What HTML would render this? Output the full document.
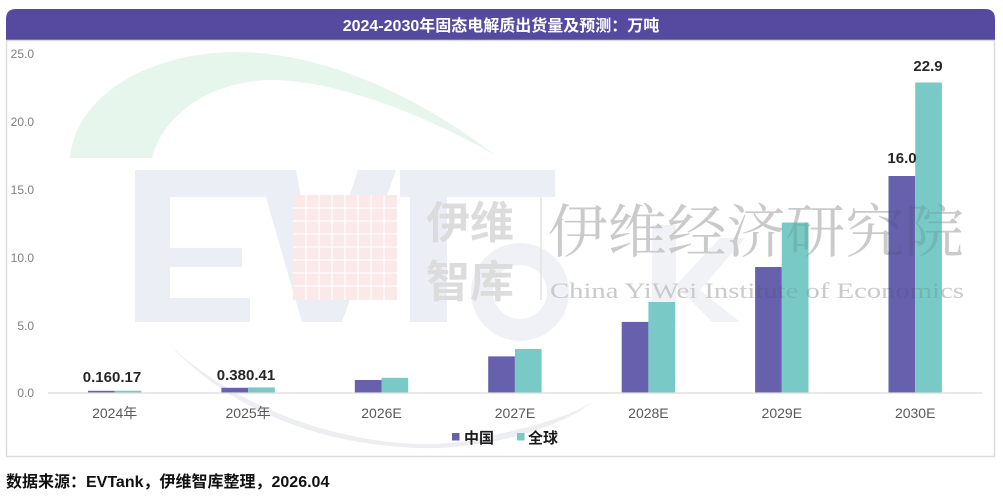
<!DOCTYPE html>
<html>
<head>
<meta charset="utf-8">
<style>
html,body{margin:0;padding:0;background:#fff;}
svg{display:block;}
text{font-family:"Liberation Sans","Noto Sans CJK SC",sans-serif;}
</style>
</head>
<body>
<svg width="1003" height="496" viewBox="0 0 1003 496" xmlns="http://www.w3.org/2000/svg">
  <rect x="0" y="0" width="1003" height="496" fill="#ffffff"/>
  <!-- title bar -->
  <path d="M6,40 V19 Q6,9 16,9 H985 Q995,9 995,19 V40 Z" fill="#554a9f"/>
  <text x="501" y="31" text-anchor="middle" font-size="16" font-weight="bold" fill="#ffffff">2024-2030年固态电解质出货量及预测：万吨</text>
  <!-- frame -->
  <rect x="6.5" y="40.5" width="988" height="416" fill="none" stroke="#dcdcdc" stroke-width="1.5"/>

  <!-- watermark -->
  <g>
    <path d="M70,158 C75,100 140,55 230,52 C330,50 430,105 495,155 C430,118 340,80 270,80 C205,82 162,118 152,158 Z" fill="#e7f6ed"/>
    <path d="M135,170 H265 V197 H170 V248 H242 V267 H170 V298 H250 V322 H135 Z" fill="#eceef5"/>
    <path d="M258,170 H296 L318,292 L358,170 H396 L342,322 H302 Z" fill="#eceef5"/>
    <path d="M400,170 H555 V197 H447 V322 H410 V197 H400 Z" fill="#eceef5"/>
    <circle cx="520" cy="292" r="38" fill="none" stroke="#eff1f6" stroke-width="22"/>
    <rect x="652" y="225" width="24" height="97" fill="#f0f2f6"/>
    <path d="M676,285 L720,238 L745,238 L700,290 L740,322 L712,322 Z" fill="#f0f2f6"/>
    <path d="M170,345 C260,430 400,455 470,440 C520,430 570,418 595,400 C560,430 480,450 420,448 C320,445 230,410 170,345 Z" fill="#eceef3"/>
    <rect x="293" y="195" width="104" height="105" fill="#fbe8e8"/>
    <g stroke="#ffffff" stroke-width="1.2">
      <line x1="306" y1="195" x2="306" y2="300"/><line x1="319" y1="195" x2="319" y2="300"/>
      <line x1="332" y1="195" x2="332" y2="300"/><line x1="345" y1="195" x2="345" y2="300"/>
      <line x1="358" y1="195" x2="358" y2="300"/><line x1="371" y1="195" x2="371" y2="300"/>
      <line x1="384" y1="195" x2="384" y2="300"/>
      <line x1="293" y1="208" x2="397" y2="208"/><line x1="293" y1="221" x2="397" y2="221"/>
      <line x1="293" y1="234" x2="397" y2="234"/><line x1="293" y1="247" x2="397" y2="247"/>
      <line x1="293" y1="260" x2="397" y2="260"/><line x1="293" y1="273" x2="397" y2="273"/>
      <line x1="293" y1="286" x2="397" y2="286"/>
    </g>
    <text x="426" y="238" font-size="44" font-weight="bold" fill="#dcdcdc">伊维</text>
    <text x="426" y="297" font-size="44" font-weight="bold" fill="#dcdcdc">智库</text>
    <line x1="541" y1="197" x2="541" y2="300" stroke="#e3e3e3" stroke-width="1.5"/>
    <text x="548" y="252" font-size="58" fill="#e0e0e0" textLength="416" lengthAdjust="spacingAndGlyphs" style="font-family:'Noto Serif CJK SC','Liberation Serif',serif;">伊维经济研究院</text>
    <text x="550" y="298" font-size="22" fill="#e0e0e0" textLength="414" lengthAdjust="spacingAndGlyphs" style="font-family:'Liberation Serif',serif;">China YiWei Institute of Economics</text>
  </g>

  <!-- y axis labels -->
  <g font-size="12" fill="#7f7f7f" text-anchor="end">
    <text x="34" y="58">25.0</text>
    <text x="34" y="126">20.0</text>
    <text x="34" y="194">15.0</text>
    <text x="34" y="262">10.0</text>
    <text x="34" y="330">5.0</text>
    <text x="34" y="397">0.0</text>
  </g>

  <!-- bars: y = 393 - v*13.56 -->
  <g fill="#6761ad">
    <rect x="88" y="390.8" width="26.7" height="2.2"/>
    <rect x="221.4" y="387.8" width="26.7" height="5.2"/>
    <rect x="354.8" y="380" width="26.7" height="13"/>
    <rect x="488.2" y="356.4" width="26.7" height="36.6"/>
    <rect x="621.7" y="321.9" width="26.7" height="71.1"/>
    <rect x="755.1" y="267" width="26.7" height="126"/>
    <rect x="888.5" y="176" width="26.7" height="217"/>
  </g>
  <g fill="#79cac7">
    <rect x="114.7" y="390.7" width="26.7" height="2.3"/>
    <rect x="248.1" y="387.4" width="26.7" height="5.6"/>
    <rect x="381.5" y="377.8" width="26.7" height="15.2"/>
    <rect x="514.9" y="349" width="26.7" height="44"/>
    <rect x="648.4" y="302" width="26.7" height="91"/>
    <rect x="781.8" y="222.5" width="26.7" height="170.5"/>
    <rect x="915.2" y="82.5" width="26.7" height="310.5"/>
  </g>

  <!-- watermark text overlay on bars -->
  <g opacity="0.12">
    <text x="548" y="252" font-size="58" fill="#333333" textLength="416" lengthAdjust="spacingAndGlyphs" style="font-family:'Noto Serif CJK SC','Liberation Serif',serif;">伊维经济研究院</text>
    <text x="550" y="298" font-size="22" fill="#333333" textLength="414" lengthAdjust="spacingAndGlyphs" style="font-family:'Liberation Serif',serif;">China YiWei Institute of Economics</text>
  </g>

  <!-- axis line -->
  <line x1="48" y1="393" x2="982" y2="393" stroke="#d9d9d9" stroke-width="1.2"/>

  <!-- data labels -->
  <g font-size="15" font-weight="bold" fill="#262626" text-anchor="middle">
    <text x="112" y="382">0.160.17</text>
    <text x="246" y="380">0.380.41</text>
    <text x="902" y="163">16.0</text>
    <text x="928" y="71">22.9</text>
  </g>

  <!-- x labels -->
  <g font-size="14" fill="#595959" text-anchor="middle">
    <text x="114.7" y="418">2024年</text>
    <text x="248.1" y="418">2025年</text>
    <text x="381.5" y="418">2026E</text>
    <text x="515" y="418">2027E</text>
    <text x="648.4" y="418">2028E</text>
    <text x="781.8" y="418">2029E</text>
    <text x="915.2" y="418">2030E</text>
  </g>

  <!-- legend -->
  <rect x="452" y="433" width="7.5" height="7.5" fill="#6761ad"/>
  <text x="464" y="443" font-size="15" font-weight="bold" fill="#1a1a1a">中国</text>
  <rect x="517" y="433" width="7.5" height="7.5" fill="#79cac7"/>
  <text x="528" y="443" font-size="15" font-weight="bold" fill="#1a1a1a">全球</text>

  <!-- footer -->
  <text x="6" y="487" font-size="16" font-weight="bold" fill="#111111">数据来源：EVTank，伊维智库整理，2026.04</text>
</svg>
</body>
</html>
